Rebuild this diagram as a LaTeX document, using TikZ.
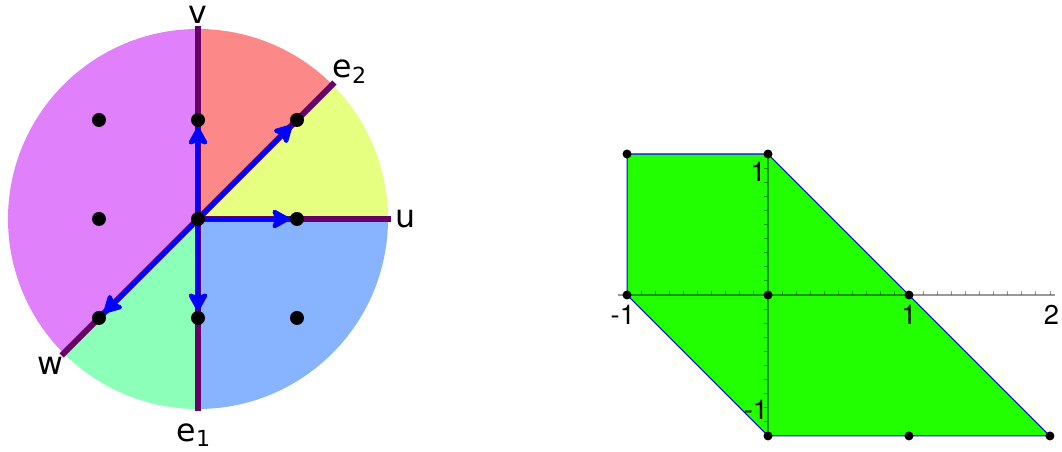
\documentclass[tikz,border=0pt]{standalone}
\usepackage{fontspec}
\setmainfont{DejaVu Sans}
\newfontfamily\heros{TeX Gyre Heros}
\usepackage{xcolor}
\usepackage{tikz}
\usetikzlibrary{arrows.meta}
\definecolor{conered}{RGB}{253,136,136}
\definecolor{coneyellow}{RGB}{230,255,128}
\definecolor{coneblue}{RGB}{136,180,255}
\definecolor{conegreen}{RGB}{140,255,184}
\definecolor{coneviolet}{RGB}{224,128,250}
\definecolor{wallpurple}{RGB}{102,0,102}
\definecolor{polygreen}{RGB}{34,255,0}

\begin{document}
\begin{tikzpicture}[
    x=0.02cm, y=0.02cm,
    dot/.style={circle, fill=black, inner sep=0pt, minimum size=0.28cm},
    smalldot/.style={circle, fill=black, inner sep=0pt, minimum size=0.18cm},
    wall/.style={line width=3.4pt, wallpurple},
    vec/.style={-{Stealth[length=12pt, width=13pt, inset=2.5pt, round]}, line width=2.8pt, blue},
    lbl/.style={font=\fontsize{18}{20}\selectfont, inner sep=0pt},
    num/.style={font=\heros\fontsize{15.5}{17}\selectfont, inner sep=0pt},
    axis/.style={line width=0.9pt, black, opacity=0.4},
]
    \useasboundingbox (0,0) rectangle (1062,452);

    % Fan of cones
    \coordinate (C) at (198,233);
    \fill[conered]    (C) -- ++(90:190)  arc[start angle=90,  end angle=45,   radius=190] -- cycle;
    \fill[coneyellow] (C) -- ++(45:190)  arc[start angle=45,  end angle=0,    radius=190] -- cycle;
    \fill[coneblue]   (C) -- ++(0:190)   arc[start angle=0,   end angle=-90,  radius=190] -- cycle;
    \fill[conegreen]  (C) -- ++(-90:190) arc[start angle=-90, end angle=-135, radius=190] -- cycle;
    \fill[coneviolet] (C) -- ++(90:190)  arc[start angle=90,  end angle=225,  radius=190] -- cycle;

    % Walls between cones
    \path (C) ++(90:193) coordinate (vend)
          (C) ++(45:193) coordinate (e2end)
          (C) ++(0:193) coordinate (uend)
          (C) ++(-90:192) coordinate (e1end)
          (C) ++(225:193) coordinate (wend);
    \foreach \e in {vend,e2end,uend,e1end,wend}
        \draw[wall] (C) -- (\e);

    % Lattice points
    \node[dot] (o)      at (C) {};
    \node[dot] (ptv)    at (198,332) {};
    \node[dot] (pte2)   at (297,332) {};
    \node[dot] (ptu)    at (297,233) {};
    \node[dot] (pte1)   at (198,134) {};
    \node[dot] (ptw)    at (99,134) {};
    \node[dot] (ptnw)   at (99,332) {};
    \node[dot] (ptwest) at (99,233) {};
    \node[dot] (ptse)   at (297,134) {};

    % Ray generators
    \foreach \p in {ptv,pte2,ptu,pte1,ptw}
        \draw[vec] (o) -- (\p);

    % Ray names
    \node[lbl] (vlab)  at (198,437) {v};
    \node[lbl] (e2lab) at (350,380) {e\textsubscript{2}};
    \node[lbl] (ulab)  at (406,233) {u};
    \node[lbl] (wlab)  at (50,86)   {w};
    \node[lbl] (e1lab) at (194,17)  {e\textsubscript{1}};

    % Polytope
    \begin{scope}[shift={(768,157)}, x=2.82cm, y=2.82cm]
        \filldraw[fill=polygreen, draw=blue, line width=0.6pt]
            (-1,1) -- (0,1) -- (1,0) -- (2,-1) -- (0,-1) -- (-1,0) -- cycle;
        \draw[axis] (-1.064,0) -- (2.035,0);
        \draw[axis] (0,-1) -- (0,1);
        \foreach \t in {-10,...,20}
            \draw[axis, line width=0.5pt] (\t/10,0) -- ++(0,0.025);
        \foreach \t in {-10,...,10}
            \draw[axis, line width=0.5pt] (0,\t/10) -- ++(-0.025,0);

        \node[smalldot] (nw)  at (-1,1)  {};
        \node[smalldot] (n)   at (0,1)   {};
        \node[smalldot] (w)   at (-1,0)  {};
        \node[smalldot] (c)   at (0,0)   {};
        \node[smalldot] (e)   at (1,0)   {};
        \node[smalldot] (s)   at (0,-1)  {};
        \node[smalldot] (se)  at (1,-1)  {};
        \node[smalldot] (sse) at (2,-1)  {};

        \node[num] (xm1) at (-1.03,-0.138) {-1};
        \node[num] (x1)  at (1.0,-0.142)   {1};
        \node[num] (x2)  at (2.01,-0.142)  {2};
        \node[num] (y1)  at (-0.07,0.872)  {1};
        \node[num] (ym1) at (-0.085,-0.816) {-1};
    \end{scope}
\end{tikzpicture}
\end{document}
